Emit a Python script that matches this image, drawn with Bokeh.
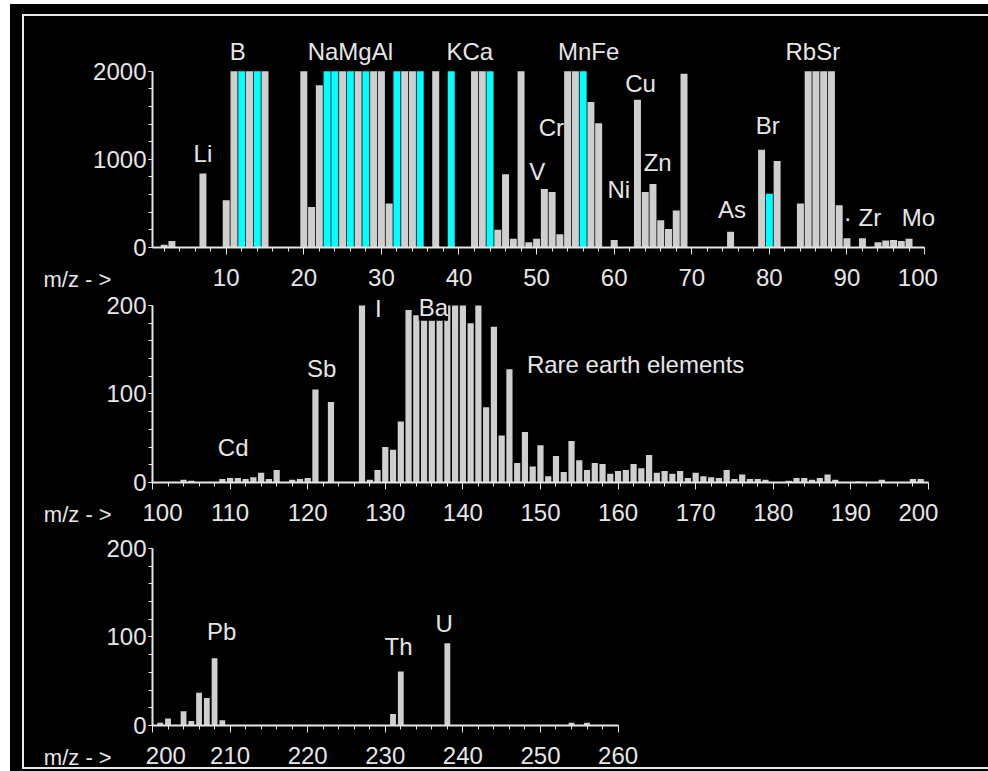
import numpy as np
from bokeh.plotting import figure
from bokeh.models import Range1d, SingleIntervalTicker, Label
from bokeh.layouts import column
from bokeh.embed import file_html
from bokeh.resources import INLINE

# ---------------- data ----------------
# panel 1 : m/z 1-100, counts clipped at 2000
p1_mass = [2, 3, 7, 10, 11, 12, 13, 14, 15, 20, 21, 22, 23, 24, 25, 26, 27, 28, 29, 30,
           31, 32, 33, 34, 35, 37, 39, 42, 43, 44, 45, 46, 47, 48, 49, 50, 51, 52, 53, 54,
           55, 56, 57, 58, 60, 63, 64, 65, 66, 67, 68, 69, 75, 79, 80, 81, 84, 85, 86, 87,
           88, 89, 90, 92, 94, 95, 96, 97, 98]
p1_counts = [30, 75, 840, 535, 2000, 2000, 2000, 2000, 2000, 2000, 460, 1840, 2000, 2000, 2000, 2000, 2000, 2000, 2000, 2000,
             500, 2000, 2000, 2000, 2000, 2000, 2000, 2000, 2000, 2000, 200, 830, 100, 2000, 60, 100, 665, 630, 150, 2000,
             2000, 2000, 1650, 1410, 85, 1675, 630, 720, 310, 210, 420, 1970, 180, 1110, 610, 980, 500, 2000, 2000, 2000,
             2000, 480, 105, 105, 60, 80, 85, 75, 100]
p1_cyan = [12, 14, 23, 24, 26, 28, 32, 35, 39, 44, 56, 80]

# panel 2 : m/z 100-200, counts clipped at 200
p2_mass = [104, 105, 109, 110, 111, 112, 113, 114, 115, 116, 118, 119, 120, 121, 123,
           127, 128, 129, 130, 131, 132, 133, 134, 135, 136, 137, 138, 139, 140, 141, 142,
           143, 144, 145, 146, 147, 148, 149, 150, 151, 152, 153, 154, 155, 156, 157, 158,
           159, 160, 161, 162, 163, 164, 165, 166, 167, 168, 169, 170, 171, 172, 173, 174,
           175, 176, 177, 178, 179, 182, 183, 184, 185, 186, 187, 188, 191, 194, 198, 199]
p2_counts = [3, 2, 4, 5, 5, 4, 6, 11, 4, 14, 3, 4, 5, 105, 91,
             200, 3, 14, 40, 37, 69, 195, 189, 189, 189, 189, 200, 200, 200, 180, 200,
             85, 176, 53, 128, 22, 57, 18, 42, 7, 30, 12, 47, 25, 14, 22, 21,
             10, 13, 14, 21, 16, 31, 11, 13, 10, 13, 5, 11, 7, 6, 5, 14,
             4, 9, 4, 4, 3, 2, 5, 5, 3, 5, 9, 3, 1, 3, 4, 4]

# panel 3 : m/z 200-260
p3_mass = [201, 202, 204, 205, 206, 207, 208, 209, 231, 232, 238, 254, 256]
p3_counts = [3, 8, 16, 5, 37, 31, 76, 6, 13, 61, 93, 3, 3]

# element labels
p1_labels = ["Li", "B", "NaMgAl", "KCa", "MnFe", "V", "Cr", "Ni", "Cu", "Zn", "As", "Br", "RbSr", "· Zr", "Mo"]
p1_lab_x = [7.0, 11.5, 26.0, 41.4, 56.7, 50.1, 51.9, 60.6, 63.4, 65.6, 75.2, 79.8, 85.6, 92.0, 99.2]
p1_lab_y = [1062, 2219, 2219, 2219, 2219, 865, 1360, 663, 1865, 966, 427, 1382, 2225, 337, 337]

p2_labels = ["Cd", "Sb", "I", "Ba"]
p2_lab_x = [110.4, 121.8, 129.1, 136.2]
p2_lab_y = [39, 129, 196, 198]
p2_lab_boxed = [False, False, True, True]
p2_note = "Rare earth elements"
p2_note_x, p2_note_y = 148.25, 133

p3_labels = ["Pb", "Th", "U"]
p3_lab_x = [208.9, 231.7, 237.6]
p3_lab_y = [106, 89, 115]

axis_name = "m/z - >"
NB = "\u00a0"
p1_tick_text = {100: "100" + NB * 2}
p2_tick_text = {100: NB * 3 + "100", 200: "200" + NB * 3}
p3_tick_text = {200: NB * 4 + "200"}

# ---------------- styling ----------------
FONT = "Liberation Sans"
FG = "#e6e6e6"
GREY = "#cfcfcf"
CYAN = "#00ffff"
SPAN = 101.04          # m/z units across every frame (same pixel scale in all panels)


def make_panel(x0, xend, ytop, yend, yint, masses, counts, cyan, bar_w, height, top, bottom, standoff):
    p = figure(width=988, height=height, x_range=Range1d(x0, x0 + SPAN), y_range=Range1d(0, yend),
               output_backend="svg", toolbar_location=None, title=None,
               min_border_left=152, min_border_right=52,
               min_border_top=top, min_border_bottom=bottom)
    p.background_fill_alpha = 0
    p.border_fill_alpha = 0
    p.outline_line_color = None
    p.xgrid.visible = False
    p.ygrid.visible = False
    top_vals = np.minimum(np.array(counts, dtype=float), ytop)
    colors = [CYAN if m in cyan else GREY for m in masses]
    p.vbar(x=masses, top=top_vals, bottom=0, width=bar_w, fill_color=colors, line_color=None)

    xa = p.xaxis[0]
    xa.ticker = SingleIntervalTicker(interval=10, num_minor_ticks=5)
    xa.bounds = (x0, xend)
    ya = p.yaxis[0]
    ya.ticker = SingleIntervalTicker(interval=yint, num_minor_ticks=5)
    ya.bounds = (0, ytop)
    for ax in (xa, ya):
        ax.axis_line_color = FG
        ax.axis_line_width = 2
        ax.major_tick_line_color = FG
        ax.minor_tick_line_color = FG
        ax.major_tick_in = 0
        ax.minor_tick_in = 0
        ax.major_label_text_color = FG
        ax.major_label_text_font = FONT
        ax.major_label_text_font_size = "24px"
    xa.major_tick_out = 7
    xa.minor_tick_out = 4
    xa.major_label_standoff = standoff
    ya.major_tick_out = 4
    ya.minor_tick_out = 4
    ya.major_label_standoff = 2
    return p


def add_text(p, x, y, text, size="24px", align="center", baseline="middle", place="center", boxed=False):
    lab = Label(x=x, y=y, text=text, text_font=FONT, text_font_size=size,
                text_color=FG, text_align=align, text_baseline=baseline)
    if boxed:
        lab.background_fill_color = "black"
    p.add_layout(lab, place)


# page rows: panel 1 frame 38-249, panel 2 frame 293-483, panel 3 frame 528-726
f1 = make_panel(0.5, 100, 2000, 2371, 1000, p1_mass, p1_counts, p1_cyan, 0.9, 293, 38, 44, 9)
f2 = make_panel(100, 200, 200, 213.5, 100, p2_mass, p2_counts, [], 0.8, 235, 0, 45, 9)
f3 = make_panel(200, 260, 200, 222.5, 100, p3_mass, p3_counts, [], 0.75, 243, 0, 45, 9)
f1.xaxis[0].major_label_overrides = p1_tick_text
f2.xaxis[0].major_label_overrides = p2_tick_text
f3.xaxis[0].major_label_overrides = p3_tick_text

for t, x, y in zip(p1_labels, p1_lab_x, p1_lab_y):
    add_text(f1, x, y, t)
for t, x, y, b in zip(p2_labels, p2_lab_x, p2_lab_y, p2_lab_boxed):
    add_text(f2, x, y, t, boxed=b)
add_text(f2, p2_note_x, p2_note_y, p2_note, align="left")
for t, x, y in zip(p3_labels, p3_lab_x, p3_lab_y):
    add_text(f3, x, y, t)

# axis name on the tick-label row, left of the frame (side panel: not clipped)
add_text(f1, -13.55, -365, axis_name, size="22px", align="left", baseline="alphabetic", place="left")
add_text(f2, 86.0, -36.5, axis_name, size="22px", align="left", baseline="alphabetic", place="left")
add_text(f3, 186.0, -36.5, axis_name, size="22px", align="left", baseline="alphabetic", place="left")

LINE = "linear-gradient(#e8e8e8, #e8e8e8)"
frame_bg = (f"{LINE} 22px 14px / 2px 755px no-repeat, "
            f"{LINE} 22px 14px / 966px 2px no-repeat, "
            f"{LINE} 22px 767px / 966px 2px no-repeat, "
            f"linear-gradient(#000000, #000000) 10px 4px / 978px 767px no-repeat, #ffffff")
root = column(f1, f2, f3, styles={"background": frame_bg})

open("out.html", "w").write(file_html(root, INLINE))
